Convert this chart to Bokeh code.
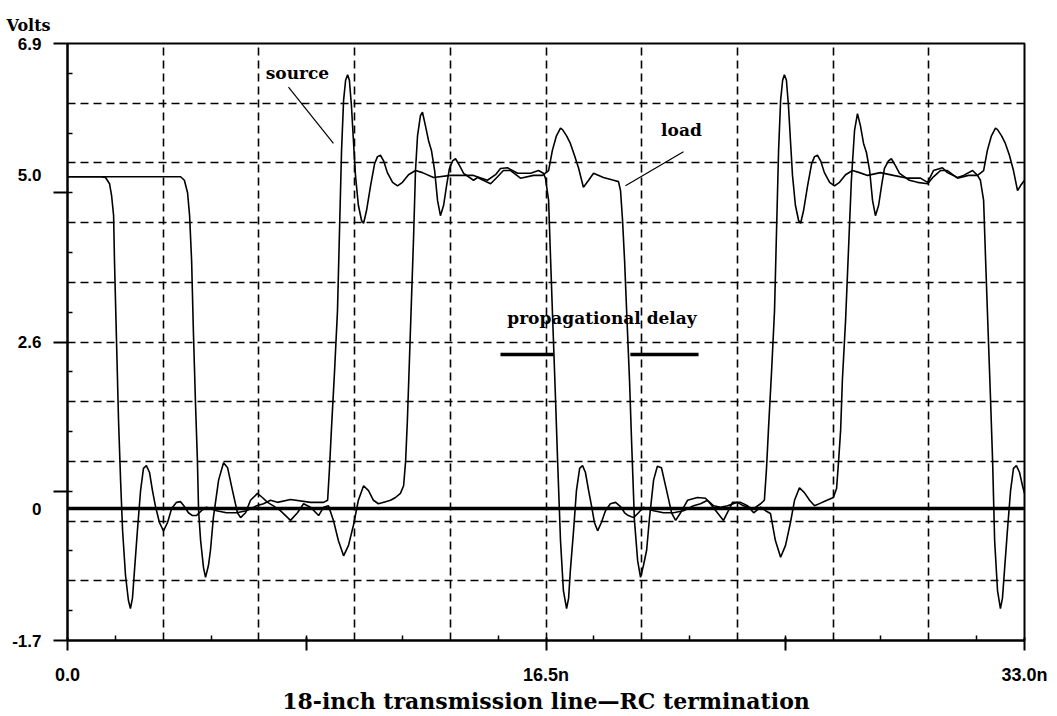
from bokeh.plotting import figure
from bokeh.models import Range1d, FixedTicker, Span, Title, ColumnDataSource, LinearAxis
from bokeh.core.properties import value
from bokeh.embed import file_html
from bokeh.resources import INLINE

# ---------------- data (time in ns, voltage in V) ----------------
SOURCE_T = [0.0, 1.14, 1.31, 1.45, 1.52, 1.59, 1.62, 1.69, 1.76, 1.83, 1.90, 2.00, 2.10, 2.17, 2.24, 2.31,
            2.41, 2.52, 2.62, 2.72, 2.83, 2.93, 3.03, 3.17, 3.31, 3.45, 3.59, 3.76, 3.90, 4.03, 4.17, 4.31,
            4.45, 4.62, 4.79, 5.14, 5.48, 5.83, 6.17, 6.52, 6.76, 7.00, 7.24, 7.69, 8.38, 8.83, 8.97, 9.03,
            9.10, 9.21, 9.31, 9.38, 9.45, 9.52, 9.59, 9.66, 9.72, 9.79, 9.86, 9.93, 10.03, 10.14, 10.21,
            10.31, 10.45, 10.59, 10.69, 10.79, 10.90, 11.03, 11.21, 11.38, 11.55, 11.76, 12.00, 12.24,
            12.62, 13.21, 13.66, 14.00, 14.48, 14.76, 14.93, 15.17, 15.52, 15.97, 16.24, 16.41, 16.48,
            16.59, 16.66, 16.72, 16.83, 16.90, 17.00, 17.10, 17.21, 17.28, 17.34, 17.45, 17.55, 17.66,
            17.76, 17.86, 17.97, 18.07, 18.17, 18.28, 18.41, 18.55, 18.72, 18.90, 19.07, 19.21, 19.34,
            19.52, 19.69, 19.86, 20.21, 20.55, 20.90, 21.24, 21.59, 21.83, 22.07, 22.28, 22.52, 22.76,
            23.10, 23.31, 23.66, 23.90, 24.03, 24.10, 24.17, 24.28, 24.38, 24.45, 24.52, 24.59, 24.66,
            24.72, 24.79, 24.86, 24.93, 25.00, 25.10, 25.21, 25.28, 25.38, 25.52, 25.66, 25.76, 25.86,
            25.97, 26.10, 26.28, 26.45, 26.62, 26.83, 27.07, 27.31, 27.59, 28.03, 28.48, 28.97, 29.41,
            29.66, 29.86, 30.17, 30.34, 30.69, 30.90, 31.21, 31.38, 31.48, 31.59, 31.66, 31.72, 31.83,
            31.90, 31.97, 32.07, 32.17, 32.24, 32.31, 32.41, 32.52, 32.62, 32.72, 32.83, 32.93, 33.00]
SOURCE_V = [4.98, 4.98, 4.97, 4.88, 4.71, 4.42, 3.77, 2.62, 1.47, 0.61, -0.12, -0.76, -1.12, -1.24, -1.09, -0.69,
            -0.12, 0.46, 0.78, 0.82, 0.72, 0.46, 0.24, 0.00, -0.12, 0.00, 0.20, 0.29, 0.30, 0.23, 0.14, 0.10,
            0.10, 0.17, 0.22, 0.17, 0.14, 0.14, 0.17, 0.24, 0.27, 0.32, 0.29, 0.33, 0.29, 0.29, 0.32, 0.75,
            1.33, 2.19, 3.05, 4.21, 5.36, 6.08, 6.37, 6.45, 6.37, 6.01, 5.50, 5.00, 4.57, 4.35, 4.31,
            4.49, 4.85, 5.17, 5.27, 5.29, 5.21, 5.04, 4.90, 4.85, 4.90, 5.01, 5.07, 5.04,
            4.97, 5.00, 5.00, 5.00, 4.93, 5.01, 5.10, 5.11, 5.03, 5.03, 5.07, 5.03, 4.96,
            4.64, 3.77, 3.05, 1.76, 0.89, -0.26, -0.98, -1.24, -1.09, -0.69, -0.12, 0.46, 0.78,
            0.82, 0.72, 0.46, 0.24, 0.00, -0.12, 0.00, 0.17, 0.27, 0.29, 0.23, 0.14, 0.10,
            0.07, 0.14, 0.22, 0.17, 0.14, 0.14, 0.17, 0.24, 0.27, 0.32, 0.24, 0.22, 0.24,
            0.29, 0.24, 0.20, 0.27, 0.32, 0.75, 1.33, 2.19, 3.05, 4.21, 5.36, 6.08, 6.37,
            6.45, 6.37, 6.01, 5.50, 5.00, 4.57, 4.35, 4.31, 4.49, 4.85, 5.17, 5.27, 5.29,
            5.21, 5.04, 4.90, 4.85, 4.90, 5.01, 5.07, 5.04, 5.00, 5.04, 5.00, 4.96, 4.96,
            4.90, 5.07, 5.11, 5.04, 4.97, 5.00, 5.07, 5.00, 4.93, 4.64, 3.77, 3.05, 1.76,
            0.89, -0.26, -0.98, -1.24, -1.09, -0.69, -0.12, 0.46, 0.78, 0.82, 0.72, 0.53, 0.42]

LOAD_T = [0.0, 3.90, 4.03, 4.14, 4.21, 4.28, 4.34, 4.41, 4.48, 4.52, 4.59, 4.69, 4.76, 4.86, 4.93, 5.03,
          5.21, 5.38, 5.52, 5.69, 5.86, 5.97, 6.14, 6.31, 6.55, 6.72, 6.90, 7.10, 7.34, 7.69, 7.93, 8.14,
          8.38, 8.66, 8.83, 9.00, 9.17, 9.34, 9.52, 9.69, 9.86, 10.03, 10.21, 10.38, 10.55, 10.72, 10.97,
          11.14, 11.31, 11.48, 11.59, 11.66, 11.72, 11.79, 11.86, 11.93, 12.00, 12.07, 12.17, 12.24,
          12.34, 12.45, 12.55, 12.66, 12.76, 12.86, 12.97, 13.07, 13.17, 13.28, 13.38, 13.52, 13.66,
          14.00, 14.14, 14.59, 14.83, 15.03, 15.28, 15.62, 16.07, 16.38, 16.59, 16.72, 16.86, 17.00,
          17.07, 17.21, 17.34, 17.48, 17.62, 17.79, 17.97, 18.14, 18.48, 18.83, 19.00, 19.07, 19.14,
          19.21, 19.28, 19.38, 19.45, 19.55, 19.66, 19.76, 19.86, 19.97, 20.07, 20.21, 20.34, 20.48,
          20.66, 20.83, 20.97, 21.14, 21.38, 21.72, 22.00, 22.17, 22.41, 22.62, 22.79, 22.93, 23.21,
          23.45, 23.66, 23.90, 24.07, 24.24, 24.41, 24.59, 24.76, 24.93, 25.07, 25.24, 25.41, 25.59,
          25.76, 26.03, 26.41, 26.52, 26.59, 26.66, 26.72, 26.83, 26.93, 27.03, 27.14, 27.24, 27.34,
          27.45, 27.55, 27.66, 27.76, 27.86, 27.97, 28.07, 28.17, 28.31, 28.41, 28.55, 28.69, 29.03,
          29.31, 29.66, 29.86, 30.10, 30.34, 30.69, 31.07, 31.38, 31.59, 31.72, 31.86, 32.00, 32.07,
          32.21, 32.34, 32.48, 32.62, 32.76, 32.86, 33.00]
LOAD_V = [4.98, 4.98, 4.93, 4.75, 4.42, 3.77, 2.77, 1.76, 0.89, 0.17, -0.26, -0.65, -0.79, -0.62, -0.40, 0.07,
          0.61, 0.86, 0.79, 0.46, 0.14, 0.07, 0.14, 0.32, 0.42, 0.36, 0.29, 0.24, 0.17, 0.03, 0.14, 0.27,
          0.22, 0.10, 0.22, 0.24, 0.03, -0.26, -0.48, -0.33, -0.04, 0.32, 0.53, 0.46, 0.32, 0.27, 0.30,
          0.32, 0.36, 0.42, 0.53, 0.89, 1.47, 2.33, 3.20, 4.06, 5.07, 5.57, 5.86, 5.91,
          5.72, 5.50, 5.36, 5.07, 4.64, 4.42, 4.57, 4.85, 5.10, 5.21, 5.24, 5.14, 5.03,
          4.93, 4.97, 4.88, 4.98, 5.07, 5.07, 4.96, 5.00, 5.00, 5.07, 5.36, 5.57, 5.68,
          5.66, 5.57, 5.46, 5.29, 5.11, 4.83, 4.93, 5.03, 4.97, 4.93, 4.91, 4.78, 4.35,
          3.77, 3.05, 2.05, 1.18, 0.03, -0.55, -0.79, -0.62, -0.40, 0.07, 0.61, 0.81, 0.79,
          0.46, 0.14, 0.03, 0.14, 0.32, 0.36, 0.35, 0.27, 0.14, 0.03, 0.17, 0.29, 0.29,
          0.24, 0.14, 0.22, 0.17, 0.13, -0.26, -0.50, -0.33, 0.00, 0.32, 0.50, 0.43, 0.32,
          0.24, 0.29, 0.36, 0.49, 0.89, 1.33, 2.05, 2.91, 3.92, 4.93, 5.65, 5.89, 5.72,
          5.46, 5.33, 5.07, 4.64, 4.42, 4.57, 4.85, 5.10, 5.21, 5.24, 5.14, 5.03, 4.93,
          4.90, 4.88, 4.98, 5.07, 5.07, 4.96, 5.00, 5.00, 5.07, 5.36, 5.57, 5.68, 5.66,
          5.57, 5.46, 5.29, 5.07, 4.78, 4.85, 4.93]

GROUND_LEVEL = 0.2

X_TICKS = [0.0, 8.25, 16.5, 24.75, 33.0]
X_TICK_LABELS = ["0.0", "", "16.5n", "", "33.0n"]
X_MINOR = [1.65, 4.95, 8.25, 11.55, 14.85, 18.15, 21.45, 24.75, 28.05, 31.35]
X_GRID = [3.3, 6.6, 9.9, 13.2, 16.5, 19.8, 23.1, 26.4, 29.7]

Y_TICKS = [-1.7, 0.45, 2.6, 4.75, 6.9]
Y_MINOR = [6.47, 5.61, 4.75, 3.89, 3.03, 2.17, 1.31, 0.45, -0.41, -1.27]
Y_GRID = [6.04, 5.18, 4.32, 3.46, 2.6, 1.74, 0.88, 0.02, -0.84]

Y_LABEL_VALUES = [-1.7, 0.2, 2.6, 5.0, 6.9]
Y_LABELS = ["-1.7", "0", "2.6", "5.0", "6.9"]

NOTE_TEXT = ["source", "load", "propagational delay"]
NOTE_T = [7.93, 21.17, 18.43]
NOTE_V = [6.48, 5.66, 2.95]

LEADER_T0 = [7.62, 21.24]
LEADER_V0 = [6.27, 5.34]
LEADER_T1 = [9.17, 19.24]
LEADER_V1 = [5.46, 4.85]

DELAY_T0 = [14.93, 19.41]
DELAY_T1 = [16.76, 21.76]
DELAY_V = [2.42, 2.42]

TITLE_Y = "Volts"
TITLE_X = "18-inch transmission line\u2014RC termination"

# ---------------- figure ----------------
p = figure(width=1057, height=716, x_range=Range1d(0, 33), y_range=Range1d(-1.7, 6.9),
           output_backend="svg", toolbar_location=None,
           min_border_left=67, min_border_right=33, min_border_top=43, min_border_bottom=76,
           background_fill_color="white", border_fill_color="white")

p.outline_line_color = "black"
p.outline_line_width = 2
p.outline_line_alpha = 1.0

p.add_layout(Title(text=TITLE_Y, align="left", offset=-61, text_font="DejaVu Serif",
                   text_font_size="16px", text_font_style="bold", text_color="black",
                   vertical_align="bottom", standoff=18), "above")

# x axis
xa = p.xaxis[0]
xa.ticker = FixedTicker(ticks=X_TICKS, minor_ticks=X_MINOR)
xa.major_label_overrides = dict(zip(X_TICKS, X_TICK_LABELS))
xa.major_tick_out = 10
xa.major_tick_in = 3
xa.minor_tick_out = 0
xa.minor_tick_in = 5
xa.axis_line_width = 2
xa.axis_line_color = "black"
xa.major_tick_line_width = 2
xa.major_tick_line_color = "black"
xa.minor_tick_line_width = 1.5
xa.minor_tick_line_color = "black"
xa.major_label_text_font = "Liberation Sans"
xa.major_label_text_font_size = "18px"
xa.major_label_text_font_style = "bold"
xa.major_label_text_color = "black"
xa.major_label_standoff = 14
xa.axis_label = TITLE_X
xa.axis_label_text_font = "DejaVu Serif"
xa.axis_label_text_font_size = "22px"
xa.axis_label_text_font_style = "bold"
xa.axis_label_text_color = "black"
xa.axis_label_standoff = 0

# y axis: tick marks next to the frame
ya = p.yaxis[0]
ya.ticker = FixedTicker(ticks=Y_TICKS, minor_ticks=Y_MINOR)
ya.major_label_overrides = {t: "" for t in Y_TICKS}
ya.major_label_standoff = 0
ya.major_tick_out = 14
ya.major_tick_in = 0
ya.minor_tick_out = 0
ya.minor_tick_in = 5
ya.axis_line_width = 2
ya.axis_line_color = "black"
ya.major_tick_line_width = 2
ya.major_tick_line_color = "black"
ya.minor_tick_line_width = 1.5
ya.minor_tick_line_color = "black"

# y axis: value labels
yl = LinearAxis(ticker=FixedTicker(ticks=Y_LABEL_VALUES, minor_ticks=[]),
                major_label_overrides=dict(zip(Y_LABEL_VALUES, Y_LABELS)),
                axis_line_color=None, major_tick_line_color=None, minor_tick_line_color=None,
                major_tick_out=0, major_tick_in=0, minor_tick_out=0, minor_tick_in=0,
                major_label_standoff=12,
                major_label_text_font="Liberation Sans", major_label_text_font_size="17px",
                major_label_text_font_style="bold", major_label_text_color="black")
p.add_layout(yl, "left")

# grids
p.xgrid.ticker = FixedTicker(ticks=X_GRID)
p.ygrid.ticker = FixedTicker(ticks=Y_GRID)
for g in (p.xgrid, p.ygrid):
    g.grid_line_color = "black"
    g.grid_line_alpha = 1.0
    g.grid_line_width = 1.6
    g.grid_line_dash = "8 5"

# ground reference line
p.add_layout(Span(location=GROUND_LEVEL, dimension="width", line_color="black", line_width=3.5))

# waveforms
p.line(SOURCE_T, SOURCE_V, line_color="black", line_width=1.6)
p.line(LOAD_T, LOAD_V, line_color="black", line_width=1.6)

# propagational delay bars
p.segment(x0=DELAY_T0, y0=DELAY_V, x1=DELAY_T1, y1=DELAY_V, line_color="black", line_width=3.5)

# leader lines
p.segment(x0=LEADER_T0, y0=LEADER_V0, x1=LEADER_T1, y1=LEADER_V1, line_color="black", line_width=1.2)

# notes
notes = ColumnDataSource(dict(x=NOTE_T, y=NOTE_V, text=NOTE_TEXT))
p.text(x="x", y="y", text="text", source=notes, text_font=value("DejaVu Serif"),
       text_font_style="bold", text_font_size="17px", text_align="center",
       text_baseline="middle", text_color="black")

open("out.html", "w").write(file_html(p, INLINE))
